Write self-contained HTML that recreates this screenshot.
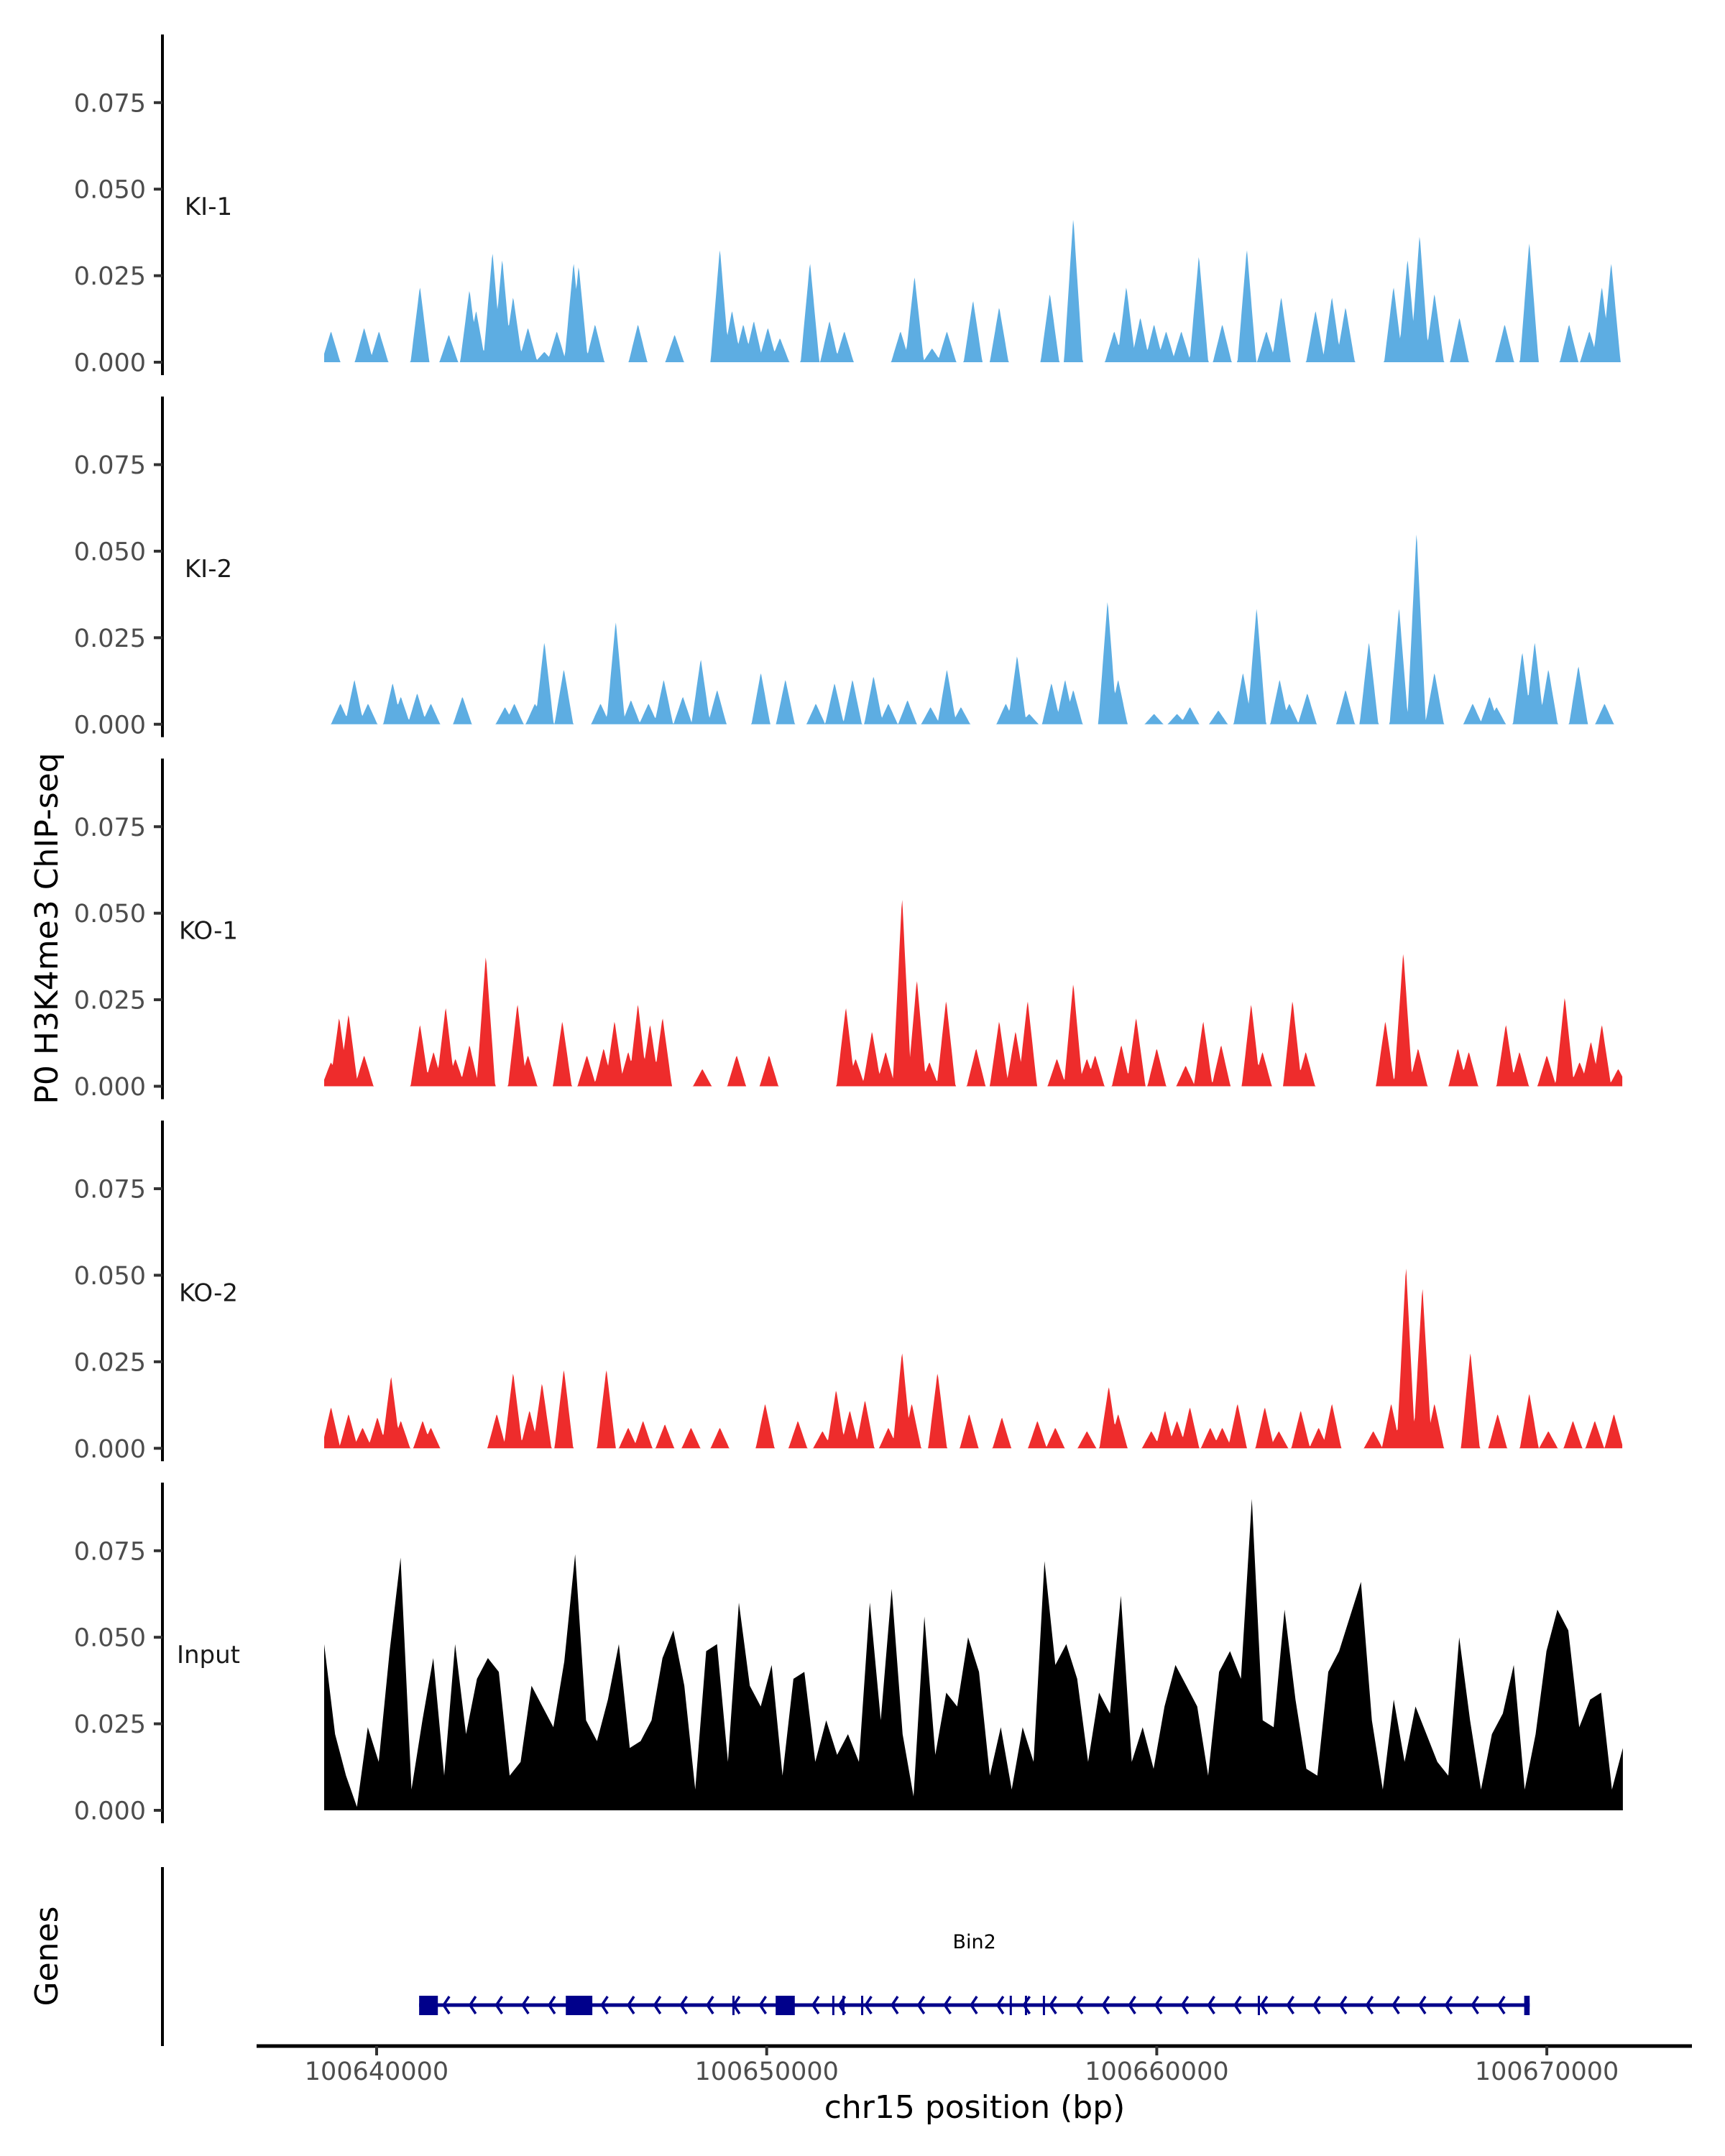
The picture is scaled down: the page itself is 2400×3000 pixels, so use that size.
<!DOCTYPE html>
<html><head><meta charset="utf-8"><title>H3K4me3 ChIP-seq tracks</title>
<style>html,body{margin:0;padding:0;background:#fff}svg{display:block}</style></head>
<body>
<svg id="chart" xmlns="http://www.w3.org/2000/svg" width="2400" height="3000" viewBox="0 0 2400 3000" font-family="DejaVu Sans, Liberation Sans, sans-serif">
<rect width="2400" height="3000" fill="#fff"/>
<text transform="translate(80,1292) rotate(-90)" text-anchor="middle" font-size="44" fill="#000">P0 H3K4me3 ChIP-seq</text>
<text transform="translate(80,2722) rotate(-90)" text-anchor="middle" font-size="44" fill="#000">Genes</text>
<text x="1356" y="2947" text-anchor="middle" font-size="44" fill="#000">chr15 position (bp)</text>
</svg>
<script>
// ---- data (positions in kb relative to 100640000) ----
const trackNames = ["KI-1","KI-2","KO-1","KO-2","Input"];
const yTicks = [0, 0.025, 0.05, 0.075];
const xTicksKb = [0, 10, 20, 30];
const xTickLabels = ["100640000","100650000","100660000","100670000"];

const ki1Pos = [-1.17,-0.32,0.06,1.11,1.85,2.38,2.55,2.97,3.22,3.50,3.88,4.30,4.62,5.05,5.18,5.60,6.70,7.64,8.80,9.11,9.40,9.67,10.03,10.34,11.11,11.61,11.99,13.43,13.79,14.24,14.62,15.29,15.96,17.26,17.86,18.91,19.22,19.58,19.93,20.24,20.63,21.08,21.68,22.31,22.81,23.19,24.07,24.49,24.84,26.07,26.43,26.74,27.12,27.76,28.92,29.55,30.57,31.09,31.41,31.65];
const ki1Val = [9,10,9,22,8,21,15,32,30,19,10,3,9,29,28,11,11,8,33,15,11,12,10,7,29,12,9,9,25,4,9,18,16,20,42,9,22,13,11,9,9,31,11,33,9,19,15,19,16,22,30,37,20,13,11,35,11,9,22,29];

const ki2Pos = [-0.93,-0.57,-0.22,0.41,0.62,1.04,1.39,2.20,3.29,3.53,4.06,4.30,4.80,5.74,6.13,6.52,6.97,7.36,7.85,8.31,8.73,9.85,10.48,11.26,11.74,12.20,12.74,13.12,13.61,14.20,14.62,14.98,16.13,16.42,16.73,17.30,17.65,17.86,18.74,19.01,19.93,20.52,20.85,21.58,22.21,22.56,23.15,23.40,23.86,24.84,25.44,26.21,26.66,27.12,28.10,28.53,28.71,29.37,29.69,30.04,30.81,31.48];
const ki2Val = [6,13,6,12,8,9,6,8,5,6,6,24,16,6,30,7,6,13,8,19,10,15,13,6,12,13,14,6,7,5,16,5,6,20,3,12,13,10,36,13,3,3,5,4,15,34,13,6,9,10,24,34,56,15,6,8,5,21,24,16,17,6];

const ko1Pos = [-1.17,-0.96,-0.72,-0.32,1.11,1.46,1.77,2.02,2.38,2.80,3.61,3.88,4.76,5.39,5.82,6.10,6.45,6.70,7.01,7.33,8.35,9.23,10.06,12.03,12.28,12.70,13.05,13.47,13.85,14.17,14.60,15.37,15.96,16.38,16.69,17.44,17.86,18.21,18.42,19.09,19.47,20.00,20.74,21.19,21.65,22.42,22.71,23.48,23.82,25.86,26.32,26.70,27.72,28.00,28.95,29.30,30.00,30.46,30.84,31.13,31.41,31.83];
const ko1Val = [7,20,21,9,18,10,23,8,12,38,24,9,19,9,11,19,10,24,18,20,5,9,9,23,8,16,10,55,31,7,25,11,19,16,25,8,30,8,9,12,20,11,6,19,12,24,10,25,10,19,39,11,11,10,18,10,9,26,7,13,18,5];

const ko2Pos = [-1.17,-0.72,-0.36,0.02,0.37,0.62,1.18,1.39,3.08,3.50,3.92,4.24,4.80,5.89,6.45,6.83,7.39,8.06,8.80,9.96,10.80,11.43,11.78,12.13,12.52,13.12,13.47,13.72,14.38,15.19,16.03,16.94,17.40,18.21,18.77,19.01,19.86,20.21,20.52,20.85,21.37,21.68,22.07,22.77,23.13,23.69,24.15,24.49,25.55,26.01,26.39,26.81,27.12,28.04,28.74,29.55,30.04,30.67,31.23,31.72];
const ko2Val = [12,10,6,9,21,8,8,6,10,22,11,19,23,23,6,8,7,6,6,13,8,5,17,11,14,6,28,13,22,10,9,8,6,5,18,10,5,11,8,12,6,6,13,12,5,11,6,13,5,13,53,47,13,28,10,16,5,8,8,10];

const inputStartKb = -1.345;
const inputEndKb = 31.95;
const inputVal = [48,22,10,1,24,14,46,73,6,26,44,10,48,22,38,44,40,10,14,36,30,24,43,74,26,20,32,48,18,20,26,44,52,36,6,46,48,14,60,36,30,42,10,38,40,14,26,16,22,14,60,26,64,22,4,56,16,34,30,50,40,10,24,6,24,14,72,42,48,38,14,34,28,62,14,24,12,30,42,36,30,10,40,46,38,90,26,24,58,32,12,10,40,46,56,66,26,6,32,14,30,22,14,10,50,26,6,22,28,42,6,22,46,58,52,24,32,34,6,18];

const geneName = "Bin2";
const geneStartKb = 1.09, geneEndKb = 29.56;
const exonStarts = [1.09, 4.85, 10.23, 9.12, 11.68, 11.94, 12.42, 16.23, 16.62, 17.08, 22.59, 29.42];
const exonEnds   = [1.57, 5.53, 10.72, 9.16, 11.72, 11.98, 12.46, 16.27, 16.66, 17.12, 22.63, 29.56];

// ---- layout / scales ----
const NS = "http://www.w3.org/2000/svg";
const svg = document.getElementById("chart");
const X0 = 524, PX_PER_KB = 54.27;
const xs = kb => X0 + kb * PX_PER_KB;
const Z0 = 504, PANEL_STEP = 503.75, PX_PER_UNIT = 120.4 / 0.025;
const colors = ["#5dade2","#5dade2","#ee2c2c","#ee2c2c","#000000"];
const AXIS_X = 226;
function mk(tag, attrs, parent) {
  const e = document.createElementNS(NS, tag);
  for (const k in attrs) e.setAttribute(k, attrs[k]);
  (parent || svg).appendChild(e);
  return e;
}
const HALF = 0.24;
function envelope(pos, val) {
  const pts = [];
  for (let k = inputStartKb; k <= inputEndKb + 1e-9; k += 0.02) {
    let m = 0;
    for (let i = 0; i < pos.length; i++) {
      const d = Math.abs(k - pos[i]);
      if (d < HALF) m = Math.max(m, val[i] * (1 - d / HALF));
    }
    pts.push([k, m / 1000]);
  }
  return pts;
}
const trackData = [[ki1Pos,ki1Val],[ki2Pos,ki2Val],[ko1Pos,ko1Val],[ko2Pos,ko2Val]];

trackNames.forEach((name, t) => {
  const z = Z0 + PANEL_STEP * t;
  const ys = v => z - v * PX_PER_UNIT;
  const g = mk("g", {});
  
  
  const ax = mk("line", {x1:AXIS_X, x2:AXIS_X, y1:z-456, y2:z+18, stroke:"#000", "stroke-width":4}, g);
  
  
  yTicks.forEach(v => {
    const tk = mk("line", {x1:AXIS_X-12, x2:AXIS_X, y1:ys(v), y2:ys(v), stroke:"#333", "stroke-width":4}, g);
    
    
    const tl = mk("text", {x:203, y:ys(v)+12.5, "text-anchor":"end", "font-size":35, fill:"#4d4d4d"}, g);
    
    
    tl.textContent = v.toFixed(3);
  });
  const lab = mk("text", {x:290, y:z-205, "text-anchor":"middle", "font-size":34, fill:"#1a1a1a"}, g);
  
  
  lab.textContent = name;
  let pts;
  if (t < 4) pts = envelope(trackData[t][0], trackData[t][1]);
  else {
    const step = (inputEndKb - inputStartKb) / (inputVal.length - 1);
    pts = inputVal.map((v, i) => [inputStartKb + i * step, v / 1000]);
  }
  let d = "M" + xs(pts[0][0]).toFixed(1) + "," + z;
  pts.forEach(p => { d += "L" + xs(p[0]).toFixed(1) + "," + ys(p[1]).toFixed(1); });
  d += "L" + xs(pts[pts.length-1][0]).toFixed(1) + "," + z + "Z";
  const area = mk("path", {d:d, fill:colors[t]}, g);
  
  
});

// genes panel
const gg = mk("g", {});


const gax = mk("line", {x1:AXIS_X, x2:AXIS_X, y1:2598, y2:2847, stroke:"#000", "stroke-width":4}, gg);


const GY = 2790;
const gl = mk("line", {x1:xs(geneStartKb), x2:xs(geneEndKb), y1:GY, y2:GY, stroke:"#00008b", "stroke-width":5}, gg);


for (let px = xs(geneStartKb) + 34; px < xs(geneEndKb) - 8; px += 36.7) {
  const ar = mk("path", {d:`M${px+8},${GY-12} L${px},${GY} L${px+8},${GY+12}`, stroke:"#00008b", "stroke-width":3.5, fill:"none"}, gg);
  
  
}
exonStarts.forEach((s, i) => {
  const w = Math.max(3, xs(exonEnds[i]) - xs(s));
  const r = mk("rect", {x:xs(s), y:GY-13, width:w, height:27, fill:"#00008b"}, gg);
  
  
});
const gn = mk("text", {x:xs((geneStartKb+geneEndKb)/2), y:2711, "text-anchor":"middle", "font-size":27, fill:"#000"}, gg);


gn.textContent = geneName;

// x axis
const xax = mk("line", {x1:357, x2:2354, y1:2847, y2:2847, stroke:"#000", "stroke-width":5});


xTicksKb.forEach((kb, i) => {
  const tk = mk("line", {x1:xs(kb), x2:xs(kb), y1:2847, y2:2860, stroke:"#333", "stroke-width":4});
  
  
  const tl = mk("text", {x:xs(kb), y:2894, "text-anchor":"middle", "font-size":35, fill:"#4d4d4d"});
  
  
  tl.textContent = xTickLabels[i];
});
</script>
</body></html>
